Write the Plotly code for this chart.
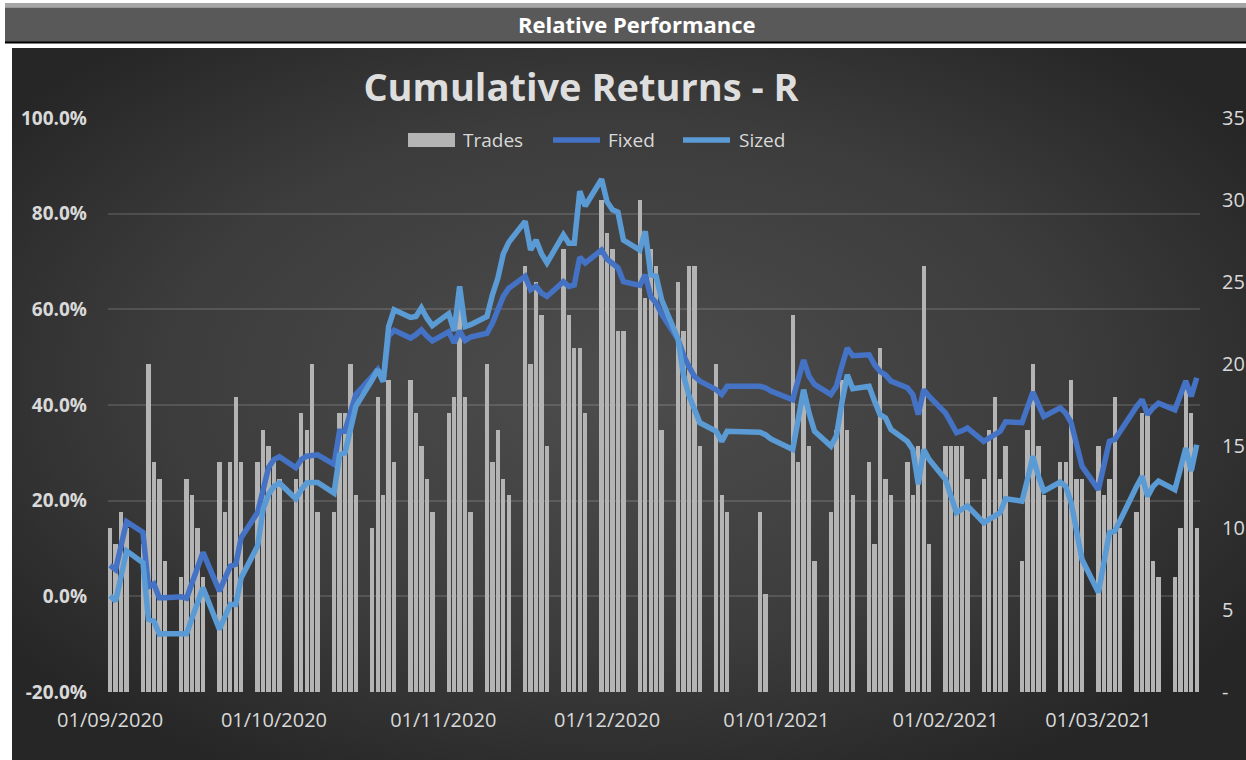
import base64
import plotly.graph_objects as go

# ---------------- data ----------------
SEP_DAYS = [1, 2, 3, 4, 7, 8, 9, 10, 11, 14, 15, 16, 17, 18, 21, 22, 23, 24, 25, 28, 29, 30]
SEP_TRADES = [10, 9, 11, 10, 9, 20, 14, 13, 8, 7, 13, 12, 10, 7, 14, 11, 14, 18, 14, 14, 16, 15]
SEP_FIXED = [6.5, 5.6, 10.6, 15.6, 13.4, 2.0, 2.6, -0.3, -0.3, -0.1, -0.4, 2.6, 5.6, 9.2, 1.1, 3.5, 6.3, 6.7, 12.3, 17.5, 22.3, 26.9]
SEP_SIZED = [0.1, -1.0, 4.2, 9.5, 7.0, -4.8, -5.2, -7.9, -7.8, -7.6, -7.8, -4.5, -1.3, 1.8, -6.9, -4.1, -1.7, -1.7, 3.9, 10.5, 18.2, 21.3]

OCT_DAYS = [1, 2, 5, 6, 7, 8, 9, 12, 13, 14, 15, 16, 19, 20, 21, 22, 23, 26, 27, 28, 29, 30]
OCT_TRADES = [14, 13, 13, 17, 16, 20, 11, 11, 17, 17, 20, 12, 10, 18, 12, 19, 14, 19, 17, 15, 13, 11]
OCT_FIXED = [28.6, 29.2, 26.9, 28.6, 29.3, 29.4, 29.6, 27.6, 34.5, 34.5, 38.2, 42.2, 46.0, 47.4, 44.9, 54.4, 55.6, 54.0, 54.7, 55.7, 54.4, 53.4]
OCT_SIZED = [23.0, 23.7, 20.4, 22.3, 23.7, 23.8, 23.8, 21.6, 29.6, 30.0, 34.9, 39.7, 45.3, 47.4, 44.9, 56.4, 59.9, 58.3, 58.5, 60.3, 58.2, 56.6]

NOV_DAYS = [2, 3, 4, 5, 6, 9, 10, 11, 12, 13, 16, 17, 18, 19, 20, 23, 24, 25, 26, 27, 30]
NOV_TRADES = [17, 18, 24, 18, 11, 20, 14, 16, 13, 12, 26, 20, 25, 23, 15, 27, 23, 21, 21, 17, 30]
NOV_FIXED = [55.3, 53.0, 55.5, 53.5, 54.2, 55.0, 57.1, 59.9, 62.7, 64.4, 66.9, 64.1, 64.8, 63.4, 62.7, 65.8, 64.8, 65.1, 70.9, 69.7, 72.4]
NOV_SIZED = [59.1, 55.5, 64.8, 56.4, 56.8, 58.5, 63.0, 66.5, 71.6, 74.0, 78.4, 72.4, 74.5, 71.6, 69.7, 75.6, 73.8, 73.8, 84.7, 81.6, 87.2]

DEC_DAYS = [1, 2, 3, 4, 7, 8, 9, 10, 11, 14, 15, 16, 17, 18, 21, 22, 23, 24, 28, 29, 30, 31]
DEC_TRADES = [28, 27, 22, 22, 30, 24, 27, 26, 16, 25, 22, 26, 26, 15, 20, 12, 11, 0, 0, 11, 6, 0]
DEC_FIXED = [70.5, 69.5, 68.7, 65.8, 65.0, 67.2, 62.7, 61.3, 59.0, 53.7, 50.4, 48.0, 46.0, 45.0, 43.2, 42.2, 43.9, 43.9, 43.9, 43.9, 43.6, 42.9]
DEC_SIZED = [82.5, 80.8, 80.3, 74.5, 72.4, 76.3, 67.2, 66.9, 62.0, 53.8, 46.3, 42.0, 38.8, 36.3, 34.5, 32.4, 34.5, 34.5, 34.5, 34.3, 33.8, 32.9]

JAN_DAYS = [4, 5, 6, 7, 8, 11, 12, 13, 14, 15, 18, 19, 20, 21, 22, 25, 26, 27, 28, 29]
JAN_TRADES = [23, 14, 18, 15, 8, 11, 16, 19, 16, 12, 14, 9, 21, 13, 12, 14, 12, 15, 26, 9]
JAN_FIXED = [41.1, 45.5, 49.4, 46.0, 44.3, 42.2, 43.9, 48.1, 51.9, 50.3, 50.5, 48.4, 47.0, 46.3, 45.0, 43.6, 42.2, 38.0, 43.2, 41.8]
JAN_SIZED = [30.7, 37.2, 43.2, 38.3, 34.5, 31.4, 33.5, 40.4, 46.3, 43.4, 43.9, 40.8, 38.0, 37.3, 34.9, 32.4, 30.7, 23.4, 30.7, 28.6]

FEB_DAYS = [1, 2, 3, 4, 5, 8, 9, 10, 11, 12, 15, 16, 17, 18, 19, 22, 23, 24, 25, 26]
FEB_TRADES = [15, 15, 15, 15, 13, 13, 16, 18, 13, 15, 8, 16, 20, 15, 12, 14, 14, 19, 13, 13]
FEB_FIXED = [38.3, 36.3, 34.2, 34.6, 35.2, 32.4, 33.1, 33.8, 34.5, 36.5, 36.3, 39.5, 42.7, 40.1, 37.6, 39.4, 38.3, 36.3, 31.4, 27.2]
FEB_SIZED = [24.4, 20.9, 17.5, 18.2, 18.9, 15.4, 16.1, 16.8, 17.5, 20.4, 19.9, 24.4, 29.3, 25.1, 22.0, 23.9, 23.0, 19.6, 14.0, 7.7]

MAR_DAYS = [1, 2, 3, 4, 5, 8, 9, 10, 11, 12, 15, 16, 17, 18, 19]
MAR_TRADES = [15, 12, 13, 18, 10, 11, 17, 17, 8, 7, 7, 10, 19, 17, 10]
MAR_FIXED = [22.3, 27.8, 32.4, 32.8, 34.6, 39.7, 41.1, 38.0, 39.4, 40.4, 39.0, 41.8, 45.0, 41.8, 45.7]
MAR_SIZED = [0.8, 7.5, 13.3, 13.6, 16.1, 23.0, 25.1, 20.9, 23.0, 24.1, 22.3, 26.5, 31.0, 26.2, 31.7]

MONTHS = [
    ("2020-09", SEP_DAYS, SEP_TRADES, SEP_FIXED, SEP_SIZED),
    ("2020-10", OCT_DAYS, OCT_TRADES, OCT_FIXED, OCT_SIZED),
    ("2020-11", NOV_DAYS, NOV_TRADES, NOV_FIXED, NOV_SIZED),
    ("2020-12", DEC_DAYS, DEC_TRADES, DEC_FIXED, DEC_SIZED),
    ("2021-01", JAN_DAYS, JAN_TRADES, JAN_FIXED, JAN_SIZED),
    ("2021-02", FEB_DAYS, FEB_TRADES, FEB_FIXED, FEB_SIZED),
    ("2021-03", MAR_DAYS, MAR_TRADES, MAR_FIXED, MAR_SIZED),
]

SERIES_NAMES = ["Trades", "Fixed", "Sized"]
X_TICKS = ["2020-09-01", "2020-10-01", "2020-11-01", "2020-12-01", "2021-01-01", "2021-02-01", "2021-03-01"]
X_TICK_TEXT = ["01/09/2020", "01/10/2020", "01/11/2020", "01/12/2020", "01/01/2021", "01/02/2021", "01/03/2021"]
PCT_TICKS = [-20, 0, 20, 40, 60, 80, 100]
TRADE_TICKS = [0, 5, 10, 15, 20, 25, 30, 35]

dates, trades, fixed, sized = [], [], [], []
for ym, days, tr, fx, sz in MONTHS:
    for d, t, f, s in zip(days, tr, fx, sz):
        dates.append(f"{ym}-{d:02d}")
        trades.append(t)
        fixed.append(f)
        sized.append(s)

# ---------------- layout geometry ----------------
W, H = 1246, 760
L, R, T, B = 108, 46, 118, 68
PW, PH = W - L - R, H - T - B


def px_x(x):
    return (x - L) / PW


def px_y(y):
    return (H - B - y) / PH


TXT = "#d9d9d9"
FONT = "Open Sans"
BAR_C = "#b4b4b4"
FIXED_C = "#4472C4"
SIZED_C = "#5B9BD5"

fig = go.Figure()
fig.add_trace(go.Bar(
    x=dates, y=trades, name=SERIES_NAMES[0], yaxis="y", showlegend=False,
    marker=dict(color=BAR_C, line=dict(width=0)),
    width=0.8 * 86400000,
))
fig.add_trace(go.Scatter(
    x=dates, y=fixed, name=SERIES_NAMES[1], yaxis="y2", mode="lines", showlegend=False,
    line=dict(color=FIXED_C, width=5.5),
))
fig.add_trace(go.Scatter(
    x=dates, y=sized, name=SERIES_NAMES[2], yaxis="y2", mode="lines", showlegend=False,
    line=dict(color=SIZED_C, width=5.5),
))

# background gradient for the chart area
svg = (
    '<svg xmlns="http://www.w3.org/2000/svg" width="1234" height="712" preserveAspectRatio="none">'
    '<defs><radialGradient id="g" cx="0.49" cy="0.47" r="0.62">'
    '<stop offset="0" stop-color="#4d4d4d"/><stop offset="0.6" stop-color="#3c3c3c"/>'
    '<stop offset="1" stop-color="#262626"/></radialGradient></defs>'
    '<rect width="1234" height="712" fill="url(#g)"/></svg>'
)
bg_src = "data:image/svg+xml;base64," + base64.b64encode(svg.encode()).decode()

shapes = [
    dict(type="rect", xref="paper", yref="paper", x0=px_x(5), x1=px_x(W), y0=px_y(7.5), y1=px_y(3),
         fillcolor="#a6a6a6", line=dict(width=0), layer="above"),
    dict(type="rect", xref="paper", yref="paper", x0=px_x(5), x1=px_x(W), y0=px_y(42), y1=px_y(7.5),
         fillcolor="#595959", line=dict(width=0), layer="above"),
    dict(type="line", xref="paper", yref="paper", x0=px_x(5), x1=px_x(W), y0=px_y(42.5), y1=px_y(42.5),
         line=dict(color="black", width=2), layer="above"),
    # legend keys
    dict(type="rect", xref="paper", yref="paper", x0=px_x(408), x1=px_x(455), y0=px_y(147), y1=px_y(133),
         fillcolor=BAR_C, line=dict(width=0), layer="above"),
    dict(type="line", xref="paper", yref="paper", x0=px_x(553), x1=px_x(600), y0=px_y(140), y1=px_y(140),
         line=dict(color=FIXED_C, width=5.5), layer="above"),
    dict(type="line", xref="paper", yref="paper", x0=px_x(683), x1=px_x(730), y0=px_y(140), y1=px_y(140),
         line=dict(color=SIZED_C, width=5.5), layer="above"),
]

annotations = [dict(
    text="Relative Performance", xref="paper", yref="paper",
    x=px_x(637), y=px_y(24), showarrow=False, xanchor="center", yanchor="middle",
    font=dict(family=FONT, size=22, color="white", weight="bold"),
)]
for name, xpos in zip(SERIES_NAMES, [461, 606, 737]):
    annotations.append(dict(
        text=name, xref="paper", yref="paper", x=px_x(xpos), y=px_y(140),
        showarrow=False, xanchor="left", yanchor="middle",
        font=dict(family=FONT, size=19, color=TXT),
    ))

fig.update_layout(
    width=W, height=H, autosize=False,
    margin=dict(l=L, r=R, t=T, b=B, pad=0, autoexpand=False),
    paper_bgcolor="white",
    plot_bgcolor="rgba(0,0,0,0)",
    bargap=0,
    showlegend=False,
    font=dict(family=FONT, color=TXT),
    title=dict(
        text="Cumulative Returns - R",
        font=dict(family=FONT, size=38, color="#dedede", weight="bold"),
        x=581 / W, xref="container", xanchor="center",
        y=1 - 88 / H, yref="container", yanchor="middle",
    ),
    xaxis=dict(
        type="date", automargin=False,
        range=["2020-08-31 14:24", "2021-03-19 14:24"],
        tickvals=X_TICKS, ticktext=X_TICK_TEXT,
        tickfont=dict(family=FONT, size=20, color=TXT),
        showgrid=False, zeroline=False, showline=False, ticks="",
        ticklabelstandoff=14,
    ),
    yaxis=dict(
        side="right", range=[0, 35], automargin=False,
        tickvals=TRADE_TICKS, ticktext=["-" if v == 0 else str(v) for v in TRADE_TICKS],
        tickfont=dict(family=FONT, size=20, color=TXT),
        showgrid=False, zeroline=False, showline=False, ticks="",
        ticklabelstandoff=21,
    ),
    yaxis2=dict(
        overlaying="y", side="left", range=[-20, 100], automargin=False,
        tickvals=PCT_TICKS, ticktext=[f"{v:.1f}%" for v in PCT_TICKS],
        tickfont=dict(family=FONT, size=19, color=TXT, weight="bold"),
        showgrid=True, gridcolor="rgba(255,255,255,0.13)", gridwidth=1.5,
        zeroline=False, showline=False, ticks="",
        ticklabelstandoff=20,
    ),
    images=[dict(
        source=bg_src, xref="paper", yref="paper",
        x=px_x(12), y=px_y(48), sizex=(W - 12) / PW, sizey=(H - 48) / PH,
        xanchor="left", yanchor="top", sizing="stretch", layer="below",
    )],
    shapes=shapes,
    annotations=annotations,
)

fig.write_html(
    "out.html",
    config={"displayModeBar": False},
    post_script="document.body.style.margin='0';",
)
